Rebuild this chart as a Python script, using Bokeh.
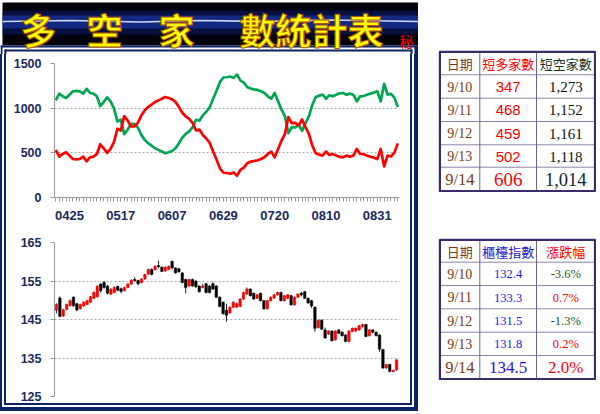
from bokeh.plotting import figure
from bokeh.layouts import column, row
from bokeh.models import Range1d, FixedTicker, ColumnDataSource, Spacer
from bokeh.core.properties import value
from bokeh.embed import file_html
from bokeh.resources import INLINE

# ---------------- data ----------------
title_parts = ["多", "空", "家", "數統計表"]
title_mark = "秘"

tick_idx = [4, 19, 34, 49, 64, 79, 94]
tick_labels = ["0425", "0517", "0607", "0629", "0720", "0810", "0831"]

long_houses = [532, 457, 487, 506, 469, 431, 427, 431, 457, 405,
               450, 457, 487, 596, 551, 499, 544, 619, 769, 750,
               911, 862, 795, 795, 836, 919, 975, 1012, 1039, 1069,
               1087, 1106, 1125, 1114, 1099, 1069, 1012, 949, 907, 881,
               836, 750, 761, 700, 660, 611, 514, 424, 326, 277,
               274, 266, 281, 244, 311, 334, 386, 401, 409, 416,
               431, 450, 487, 514, 450, 544, 637, 712, 900, 832,
               836, 806, 874, 787, 712, 581, 495, 480, 469, 514,
               476, 487, 469, 454, 450, 469, 457, 469, 544, 487,
               484, 469, 457, 446, 431, 544, 347, 468, 459, 502, 606]

short_houses = [1088, 1163, 1133, 1114, 1151, 1189, 1193, 1189, 1163, 1215,
                1170, 1163, 1133, 1024, 1069, 1121, 1076, 1001, 851, 870,
                709, 758, 825, 825, 784, 701, 645, 608, 581, 551,
                533, 514, 495, 506, 521, 551, 608, 671, 713, 739,
                784, 870, 859, 920, 960, 1009, 1106, 1196, 1294, 1343,
                1346, 1354, 1339, 1376, 1309, 1286, 1234, 1219, 1211, 1204,
                1189, 1170, 1133, 1106, 1170, 1076, 983, 908, 720, 788,
                784, 814, 746, 833, 908, 1039, 1125, 1140, 1151, 1106,
                1144, 1133, 1151, 1166, 1170, 1151, 1163, 1151, 1076, 1133,
                1136, 1151, 1163, 1174, 1189, 1076, 1273, 1152, 1161, 1118, 1014]

k_open = [147.4, 150.6, 145.9, 147.6, 148.6, 150.8, 149.1, 147.8, 148.5, 148.9,
          149.5, 150.5, 150.9, 154.2, 154.6, 153.7, 151.6, 152.0, 153.6, 153.0,
          152.5, 153.3, 154.2, 155.4, 155.1, 154.6, 155.5, 156.8, 158.0, 157.9,
          159.0, 158.6, 157.6, 158.0, 160.1, 158.4, 158.2, 157.1, 155.4, 153.7,
          155.4, 155.0, 153.7, 153.3, 154.3, 153.7, 154.3, 153.7, 150.8, 149.5,
          147.4, 146.7, 148.2, 148.2, 148.4, 150.3, 151.6, 152.9, 151.8, 150.5,
          151.8, 149.9, 147.8, 149.9, 150.6, 151.4, 152.0, 149.9, 150.5, 151.2,
          148.8, 150.8, 151.8, 152.2, 150.5, 149.9, 148.2, 142.9, 144.8, 142.3,
          141.2, 142.0, 139.7, 142.3, 141.7, 141.0, 139.3, 141.9, 142.0, 142.3,
          143.1, 143.7, 140.8, 142.3, 141.7, 141.0, 137.2, 132.4, 133.3, 131.5, 131.9]
k_close = [148.9, 145.8, 147.5, 148.9, 149.9, 148.6, 147.5, 148.9, 149.5, 149.9,
           150.9, 152.0, 153.6, 152.5, 153.3, 151.8, 152.9, 153.3, 152.6, 152.3,
           153.3, 154.2, 155.2, 155.1, 154.3, 155.5, 156.7, 158.0, 156.7, 158.8,
           158.7, 157.5, 158.6, 158.8, 158.4, 157.1, 157.4, 154.6, 153.3, 155.4,
           153.7, 153.5, 152.2, 153.7, 152.0, 152.0, 152.9, 150.8, 148.4, 146.5,
           146.1, 148.2, 149.5, 149.1, 150.3, 152.0, 152.9, 151.2, 150.3, 151.4,
           149.9, 147.8, 149.9, 150.8, 151.4, 152.0, 149.9, 151.2, 151.4, 148.8,
           150.8, 151.6, 151.4, 150.5, 149.3, 148.5, 142.7, 144.8, 142.5, 140.2,
           142.0, 139.5, 142.0, 141.4, 140.8, 139.3, 142.0, 142.7, 142.7, 143.4,
           143.7, 140.6, 142.3, 141.7, 140.8, 137.3, 132.4, 133.3, 131.5, 131.8, 134.5]
k_high = [149.2, 151.0, 147.8, 149.1, 150.2, 151.0, 149.3, 149.1, 149.7, 150.1,
          151.1, 152.3, 153.9, 154.4, 155.0, 154.0, 153.1, 153.6, 153.8, 153.3,
          153.5, 154.4, 155.4, 156.0, 155.3, 155.7, 156.9, 158.2, 158.3, 159.1,
          160.3, 158.8, 158.8, 159.0, 160.3, 158.6, 158.4, 157.3, 155.6, 155.6,
          155.6, 155.2, 153.9, 154.3, 154.5, 153.9, 154.7, 153.9, 151.0, 149.7,
          149.1, 148.4, 149.7, 149.4, 150.5, 152.2, 153.3, 153.1, 152.0, 151.6,
          152.0, 150.1, 150.1, 151.0, 151.6, 152.2, 152.2, 151.4, 151.6, 151.4,
          151.0, 151.8, 152.2, 152.4, 150.7, 150.1, 148.4, 145.0, 145.0, 142.9,
          142.2, 142.2, 142.2, 142.5, 141.9, 141.2, 142.2, 142.9, 142.9, 143.6,
          143.9, 143.9, 142.5, 142.5, 141.9, 141.2, 137.4, 133.5, 133.5, 132.0, 134.7]
k_low = [146.6, 145.6, 145.7, 147.4, 148.4, 148.3, 147.1, 147.6, 148.3, 148.7,
         149.3, 150.3, 150.7, 152.0, 153.0, 151.5, 151.4, 151.8, 152.4, 151.8,
         152.3, 153.1, 154.0, 154.9, 153.9, 154.4, 155.3, 156.6, 156.5, 157.7,
         158.4, 157.3, 157.4, 157.8, 158.0, 156.9, 157.2, 154.4, 151.8, 153.5,
         153.5, 153.2, 152.0, 153.1, 151.8, 151.8, 152.7, 150.6, 148.2, 146.3,
         144.4, 146.5, 148.0, 148.0, 148.2, 150.1, 151.4, 151.0, 150.1, 150.3,
         149.7, 147.5, 147.6, 149.7, 150.4, 151.2, 149.7, 149.7, 150.3, 148.6,
         148.6, 150.6, 151.0, 150.3, 149.1, 148.0, 141.8, 142.7, 142.3, 140.0,
         141.0, 139.3, 139.5, 141.2, 140.6, 139.1, 139.1, 141.7, 141.8, 142.1,
         142.9, 140.4, 140.6, 141.5, 140.6, 136.6, 132.2, 132.2, 131.3, 131.3, 131.7]

tbl_dates = ["9/10", "9/11", "9/12", "9/13", "9/14"]
tbl_long = [347, 468, 459, 502, 606]
tbl_short = [1273, 1152, 1161, 1118, 1014]
tbl_index = [132.4, 133.3, 131.5, 131.8, 134.5]
tbl_change = [-3.6, 0.7, -1.3, 0.2, 2.0]
hdr1 = ["日期", "短多家數", "短空家數"]
hdr2 = ["日期", "櫃檯指數", "漲跌幅"]

# ---------------- styles ----------------
NAVY = "#0b2266"
NAVY_TXT = "#1b2a5e"
AX_GRAY = "#9a9a9a"
CJK = value("Noto Sans CJK TC")
SERIF = value("Liberation Serif")
SANS = value("Liberation Sans")


def bare(p):
    p.axis.visible = False
    p.grid.visible = False
    p.outline_line_color = None


# ---------------- banner (+ top edge of the chart panel frame) ----------------
banner = figure(width=418, height=54, x_range=Range1d(0, 418), y_range=Range1d(54, 0),
                output_backend="svg", toolbar_location=None, min_border=0)
bare(banner)
banner.background_fill_color = "white"
banner.border_fill_color = "white"
banner.quad(left=2, right=418, top=2, bottom=45, fill_color="#02030b", line_color=None)
banner.quad(left=2, right=418, top=10, bottom=34, fill_color="#0a1c70", fill_alpha=0.5, line_color=None)
banner.quad(left=2, right=418, top=15, bottom=28, fill_color="#2448d8", fill_alpha=0.45, line_color=None)
banner.line([2, 70, 140, 200, 260, 330, 418], [21, 20, 21.5, 20, 21, 19.5, 21],
            line_color="#e4ecff", line_width=1.6, line_alpha=0.9)
# panel frame: outer line, white gap, inner line
banner.quad(left=[0, 0, 414], right=[418, 2, 418], top=[45, 45, 45], bottom=[47, 54, 54],
            fill_color=NAVY, line_color=None)
banner.quad(left=[4, 4, 410], right=[412, 6, 412], top=[49, 49, 49], bottom=[51, 54, 54],
            fill_color=NAVY, line_color=None)
banner.text(x=[38, 104, 176], y=[28] * 3, text=title_parts[:3], text_align="center",
            text_baseline="middle", text_font=CJK, text_font_style="bold", text_font_size="36px",
            text_color="#ffff00", text_outline_color="#b85400")
banner.text(x=[311], y=[28], text=title_parts[3:], text_align="center",
            text_baseline="middle", text_font=CJK, text_font_style="bold", text_font_size="36px",
            text_color="#ffff00", text_outline_color="#b85400")
banner.text(x=[406], y=[40], text=[title_mark], text_align="center", text_baseline="middle",
            text_font=CJK, text_font_size="14px", text_color="#ff0000")

# ---------------- top chart ----------------
xs = list(range(len(long_houses)))
top = figure(width=404, height=176, x_range=Range1d(-0.38, 100.49), y_range=Range1d(0, 1500),
             output_backend="svg", toolbar_location=None,
             min_border_left=46, min_border_right=11, min_border_top=9, min_border_bottom=33)
top.outline_line_color = None
top.line(xs, short_houses, line_color="#00a651", line_width=2.7, line_join="round")
top.line(xs, long_houses, line_color="#ff0000", line_width=2.7, line_join="round")
top.xgrid.visible = False
top.ygrid.ticker = FixedTicker(ticks=[500, 1000, 1500])
top.ygrid.grid_line_color = "#a8a8a8"
top.ygrid.grid_line_dash = "2 2"
top.yaxis.ticker = FixedTicker(ticks=[0, 500, 1000, 1500])
top.xaxis.ticker = FixedTicker(ticks=tick_idx, minor_ticks=xs)
top.xaxis.major_label_overrides = {i: s for i, s in zip(tick_idx, tick_labels)}
for ax in (top.xaxis[0], top.yaxis[0]):
    ax.axis_line_color = AX_GRAY
    ax.major_tick_line_color = AX_GRAY
    ax.minor_tick_line_color = AX_GRAY
    ax.major_tick_in = 0
    ax.major_tick_out = 4
    ax.minor_tick_in = 0
    ax.major_label_text_font = "Liberation Sans"
    ax.major_label_text_font_style = "bold"
    ax.major_label_text_color = NAVY_TXT
top.yaxis.minor_tick_out = 0
top.xaxis.minor_tick_out = 4
top.yaxis.major_label_text_font_size = "12.5px"
top.xaxis.major_label_text_font_size = "13px"
top.yaxis.major_label_standoff = 9
top.xaxis.major_label_standoff = 9

# ---------------- bottom chart ----------------
kx = list(range(len(k_close)))
src = ColumnDataSource(dict(
    x=kx, high=k_high, low=k_low,
    top=[max(o, c) for o, c in zip(k_open, k_close)],
    bottom=[min(o, c) for o, c in zip(k_open, k_close)],
    color=["#ff0000" if c > o else "#000000" for o, c in zip(k_open, k_close)],
))
bot = figure(width=404, height=173, x_range=Range1d(-0.58, 100.87), y_range=Range1d(125, 165),
             output_backend="svg", toolbar_location=None,
             min_border_left=48, min_border_right=8, min_border_top=12, min_border_bottom=7)
bot.outline_line_color = None
bot.xaxis.visible = False
bot.xgrid.visible = False
bot.ygrid.ticker = FixedTicker(ticks=[125, 135, 145, 155, 165])
bot.ygrid.grid_line_color = "#a8a8a8"
bot.ygrid.grid_line_dash = "2 2"
bot.segment(x0="x", y0="low", x1="x", y1="high", source=src, line_color="#222222", line_width=1)
bot.vbar(x="x", top="top", bottom="bottom", width=0.74, source=src,
         fill_color="color", line_color="color", line_width=0.5)
ya = bot.yaxis[0]
ya.ticker = FixedTicker(ticks=[125, 135, 145, 155, 165])
ya.axis_line_color = AX_GRAY
ya.major_tick_line_color = AX_GRAY
ya.major_tick_in = 0
ya.major_tick_out = 4
ya.minor_tick_out = 0
ya.minor_tick_in = 0
ya.major_label_text_font = "Liberation Sans"
ya.major_label_text_font_style = "bold"
ya.major_label_text_color = NAVY_TXT
ya.major_label_text_font_size = "12.5px"
ya.major_label_standoff = 9

inner = column(top, bot, spacing=0,
               styles={"border-left": f"2px solid {NAVY}", "border-right": f"2px solid {NAVY}",
                       "border-bottom": f"2px solid {NAVY}", "background-color": "white"})
middle = column(inner, spacing=0,
                styles={"border-left": "2px solid white", "border-right": "2px solid white",
                        "border-bottom": "2px solid white"})
panel = column(middle, spacing=0,
               styles={"border-left": f"2px solid {NAVY}", "border-right": f"4px solid {NAVY}",
                       "border-bottom": f"4px solid {NAVY}"})
left_col = column(banner, panel, spacing=0)


# ---------------- tables ----------------
def make_table(y0, y1, row_edges, headers, header_colors, col_texts, col_colors, col_fonts,
               col_sizes, last_sizes):
    t = figure(width=158, height=int(y1 - y0), x_range=Range1d(438, 596), y_range=Range1d(y1, y0),
               output_backend="svg", toolbar_location=None, min_border=0)
    bare(t)
    col_edges = [439.3, 479.3, 536.0, 594.6]
    t.segment(x0=[col_edges[0]] * 5, x1=[col_edges[-1]] * 5, y0=row_edges[1:-1], y1=row_edges[1:-1],
              line_color="#8c84a8", line_width=1)
    t.segment(x0=col_edges[1:-1], x1=col_edges[1:-1], y0=[row_edges[0]] * 2, y1=[row_edges[-1]] * 2,
              line_color="#6e6690", line_width=1)
    t.quad(left=col_edges[0], right=col_edges[-1], top=row_edges[0], bottom=row_edges[-1],
           fill_color=None, line_color="#3a2b6e", line_width=2.4)
    cx = [(a + b) / 2 for a, b in zip(col_edges[:-1], col_edges[1:])]
    cy = [(a + b) / 2 for a, b in zip(row_edges[:-1], row_edges[1:])]
    t.text(x=cx, y=[cy[0] + 0.5] * 3, text=headers, text_align="center", text_baseline="middle",
           text_font=CJK, text_font_size="13px", text_color=header_colors)
    for j in range(3):
        texts = col_texts[j]
        colors = col_colors[j]
        t.text(x=[cx[j]] * 4, y=[c + 0.5 for c in cy[1:5]], text=texts[:4], text_align="center",
               text_baseline="middle", text_font=col_fonts[j][0], text_font_size=col_sizes[j],
               text_color=colors[:4])
        t.text(x=[cx[j]], y=[cy[5] + 0.5], text=texts[4:], text_align="center",
               text_baseline="middle", text_font=col_fonts[j][1], text_font_size=last_sizes[j],
               text_color=colors[4:])
    return t


date_color = "#7a3b12"
t1 = make_table(
    50, 192, [51.2, 74.3, 97.7, 121.0, 144.3, 166.7, 190.8],
    hdr1, ["#7a3b12", "#ff0000", "#1e3322"],
    [tbl_dates, [str(v) for v in tbl_long], [f"{v:,}" for v in tbl_short]],
    [[date_color] * 5, ["#ff0000"] * 5, ["#111111"] * 4 + ["#0d2438"]],
    [(SERIF, SERIF), (SANS, SERIF), (SERIF, SERIF)],
    ["14px", "15px", "15px"], ["16.5px", "19px", "18.5px"])
t2 = make_table(
    238, 380, [239.2, 261.7, 285.0, 308.3, 331.7, 355.0, 378.8],
    hdr2, ["#7a3b12", "#2222cc", "#ff0000"],
    [tbl_dates, [f"{v:.1f}" for v in tbl_index], [f"{v:.1f}%" for v in tbl_change]],
    [[date_color] * 5, ["#1a1ae6"] * 5, ["#1d5c1d" if v < 0 else "#ff0000" for v in tbl_change]],
    [(SERIF, SERIF), (SERIF, SERIF), (SERIF, SERIF)],
    ["14px", "12.5px", "12.5px"], ["16.5px", "17px", "17px"])

right_col = column(Spacer(width=158, height=50), t1, Spacer(width=158, height=46), t2, spacing=0)
root = row(left_col, Spacer(width=20, height=10), right_col, spacing=0)

open("out.html", "w").write(file_html(root, INLINE))
